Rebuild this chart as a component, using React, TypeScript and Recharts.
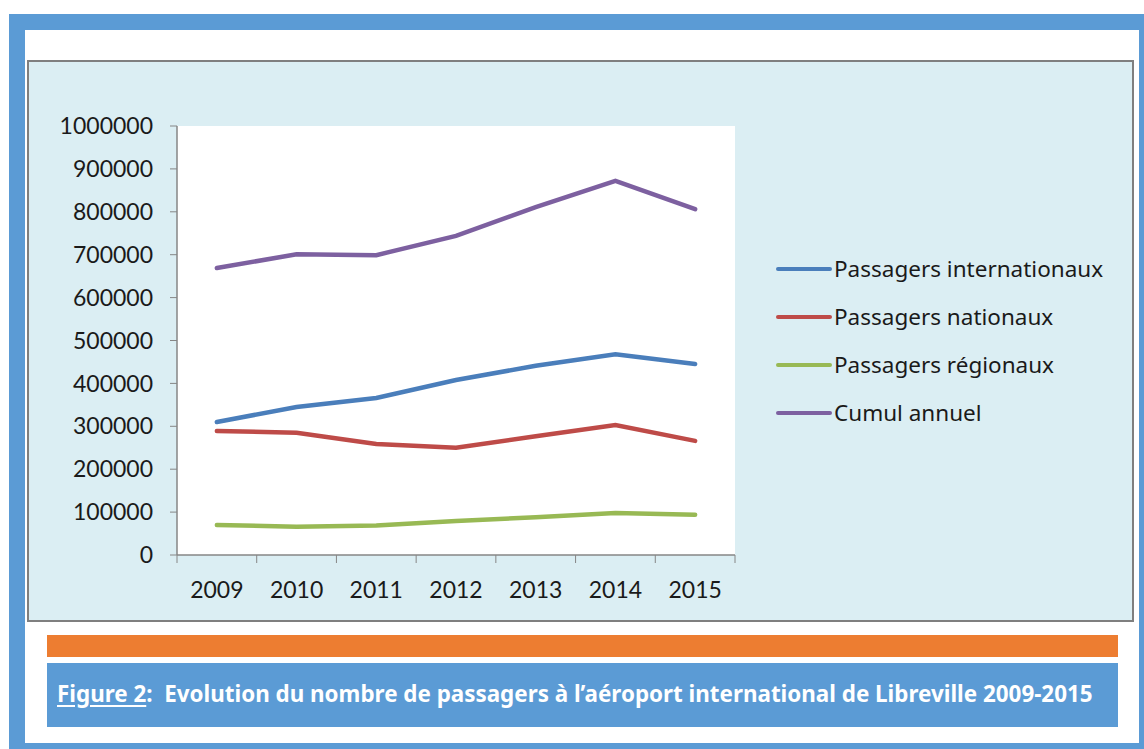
import React from 'react';
import { LineChart, Line, XAxis, YAxis, CartesianGrid, Legend } from 'recharts';

const years = ['2009', '2010', '2011', '2012', '2013', '2014', '2015'];
const international = [310000, 345000, 366000, 408000, 441000, 468000, 445000];
const national = [289000, 285000, 259000, 250000, 277000, 303000, 266000];
const regional = [70000, 66000, 69000, 79000, 88000, 98000, 94000];
const cumul = [669000, 701000, 699000, 744000, 811000, 872000, 806000];
const yTicks = [0, 100000, 200000, 300000, 400000, 500000, 600000, 700000, 800000, 900000, 1000000];

const seriesKeys = ['international', 'national', 'regional', 'cumul'];
const seriesNames = ['Passagers internationaux', 'Passagers nationaux', 'Passagers régionaux', 'Cumul annuel'];
const seriesColors = ['#4A7EBB', '#BE4B48', '#98B954', '#7D60A0'];

const data = years.map((year, i) => ({
  pos: i + 0.5,
  year,
  international: international[i],
  national: national[i],
  regional: regional[i],
  cumul: cumul[i],
}));

// boundaries (integers) get tick marks, centres (x.5) get year labels
const xTicks: number[] = [];
years.forEach((_, i) => {
  xTicks.push(i);
  xTicks.push(i + 0.5);
});
xTicks.push(years.length);

const TICK_FONT = 'Lato, "Open Sans", sans-serif';
const TEXT_FONT = '"Noto Sans", "Open Sans", sans-serif';
const AXIS = '#868686';

const XTick = (props: any) => {
  const { x, y, payload } = props;
  const v = payload.value;
  if (Number.isInteger(v)) {
    return <line x1={x} y1={y} x2={x} y2={y + 8} stroke={AXIS} strokeWidth={1} />;
  }
  return (
    <text x={x} y={y + 27} dy="0.71em" textAnchor="middle" fill="#1a1a1a" fontSize={23} fontFamily={TICK_FONT}>
      {years[Math.floor(v)]}
    </text>
  );
};

const LegendContent = (props: any) => {
  const payload = [...(props.payload || [])].sort(
    (a: any, b: any) => seriesNames.indexOf(a.value) - seriesNames.indexOf(b.value)
  );
  return (
    <div style={{ fontFamily: TEXT_FONT }}>
      {payload.map((p: any, i: number) => (
        <div key={i} style={{ display: 'flex', alignItems: 'center', height: 48 }}>
          <svg width={58} height={10} style={{ display: 'block' }}>
            <line x1={2} y1={5} x2={54} y2={5} stroke={p.color} strokeWidth={4} strokeLinecap="round" />
          </svg>
          <span style={{ fontSize: 22.5, color: '#1a1a1a', whiteSpace: 'nowrap', lineHeight: '48px' }}>{p.value}</span>
        </div>
      ))}
    </div>
  );
};

export default function App() {
  return (
    <div style={{ position: 'absolute', left: 0, top: 0, width: 1144, height: 749, background: '#fff', overflow: 'hidden' }}>
      <div style={{ position: 'absolute', left: 9, top: 14, width: 1135, height: 735, background: '#5B9BD5' }} />
      <div style={{ position: 'absolute', left: 25, top: 30, width: 1114, height: 713, background: '#fff' }} />
      <div
        style={{
          position: 'absolute',
          left: 27,
          top: 60,
          width: 1103,
          height: 558,
          background: '#DBEEF3',
          border: '2px solid #7F7F7F',
        }}
      />
      <div style={{ position: 'absolute', left: 47, top: 635, width: 1071, height: 22, background: '#ED7D31' }} />
      <div
        style={{
          position: 'absolute',
          left: 47,
          top: 663,
          width: 1071,
          height: 64,
          background: '#5B9BD5',
          color: '#fff',
          fontFamily: TEXT_FONT,
          fontWeight: 700,
          fontSize: 22.4,
          lineHeight: '62px',
          paddingLeft: 10,
          boxSizing: 'border-box',
          whiteSpace: 'nowrap',
        }}
      >
        <span style={{ textDecoration: 'underline', textUnderlineOffset: 3 }}>Figure 2</span>:&nbsp; Evolution du nombre de passagers à l’aéroport international de Libreville 2009-2015
      </div>
      <div style={{ position: 'absolute', left: 0, top: 0 }}>
        <LineChart width={1144} height={749} data={data} margin={{ top: 126, right: 409, bottom: 164, left: 0 }}>
          <CartesianGrid fill="#ffffff" stroke="none" horizontal={false} vertical={false} />
          <XAxis
            dataKey="pos"
            type="number"
            domain={[0, years.length]}
            ticks={xTicks}
            interval={0}
            tick={<XTick />}
            tickSize={0}
            tickMargin={0}
            tickLine={false}
            axisLine={{ stroke: AXIS, strokeWidth: 1.5 }}
            height={30}
          />
          <YAxis
            domain={[0, 1000000]}
            ticks={yTicks}
            interval={0}
            width={177}
            tickSize={7}
            tickMargin={17}
            tickLine={{ stroke: AXIS }}
            axisLine={{ stroke: AXIS, strokeWidth: 1.5 }}
            tick={{ fill: '#1a1a1a', fontSize: 23, fontFamily: TICK_FONT }}
          />
          <Legend
            layout="vertical"
            align="center"
            verticalAlign="middle"
            content={<LegendContent />}
            wrapperStyle={{ left: 776, top: 245, width: 360 }}
          />
          {seriesKeys.map((k, i) => (
            <Line
              key={k}
              dataKey={k}
              name={seriesNames[i]}
              stroke={seriesColors[i]}
              strokeWidth={4.5}
              strokeLinecap="round"
              dot={false}
              activeDot={false}
              type="linear"
              isAnimationActive={false}
            />
          ))}
        </LineChart>
      </div>
    </div>
  );
}
